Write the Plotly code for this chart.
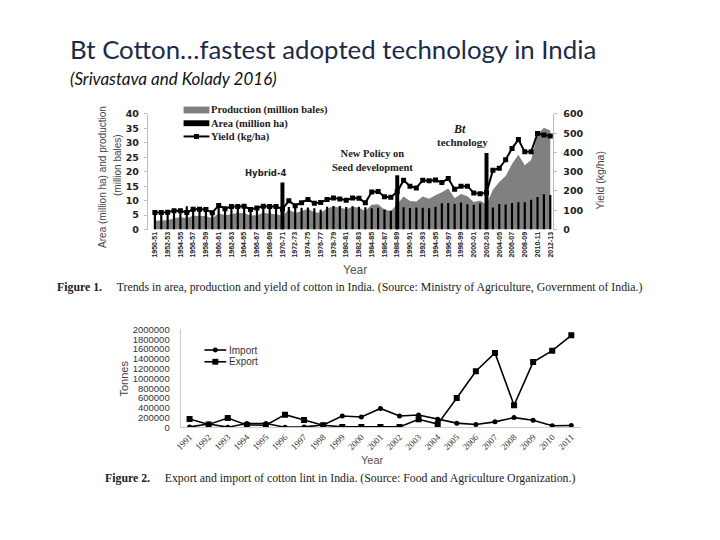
import plotly.graph_objects as go

W, H = 720, 540
OFF = 8  # page body margin of the html page
def px(x):
    return (x - OFF) / W
def py(y):
    return 1 - (y - OFF) / H

# ---------------- data: Figure 1 ----------------
start_years = list(range(1950, 2013))
seasons = [f"{y}-{(y + 1) % 100:02d}" for y in start_years]

production = [3.04, 3.13, 3.18, 3.93, 4.23, 4.00, 4.73, 4.72, 4.69, 3.90,
              5.60, 4.97, 5.48, 5.75, 5.59, 4.85, 4.95, 5.78, 5.45, 5.26,
              4.76, 6.95, 5.74, 6.31, 7.16, 5.95, 5.84, 7.24, 7.96, 7.65,
              7.01, 7.88, 7.53, 6.39, 8.53, 8.73, 6.91, 6.38, 8.74, 11.42,
              9.84, 9.71, 11.40, 10.65, 11.89, 12.86, 14.23, 10.85, 12.29, 11.53,
              9.52, 10.00, 8.62, 13.73, 16.43, 18.50, 22.63, 25.88, 22.28, 24.02,
              33.00, 35.20, 34.22]

area = [5.88, 5.90, 6.00, 6.50, 6.60, 8.09, 7.00, 7.00, 6.90, 5.80,
        7.61, 7.20, 7.82, 7.90, 8.00, 6.90, 7.40, 7.90, 7.73, 7.61,
        7.61, 7.80, 7.67, 7.57, 7.61, 7.36, 6.87, 7.87, 8.14, 8.13,
        7.82, 8.06, 7.87, 7.72, 7.38, 7.53, 6.95, 6.46, 7.34, 7.69,
        7.44, 7.66, 7.54, 7.32, 7.86, 9.06, 9.17, 8.87, 9.34, 8.71,
        8.53, 9.13, 7.67, 7.63, 8.79, 8.68, 9.14, 9.41, 9.41, 10.31,
        11.24, 12.18, 11.98]

yield_kg = [88, 88, 90, 98, 98, 88, 105, 105, 104, 87,
            125, 108, 120, 119, 121, 104, 112, 121, 120, 120,
            106, 149, 124, 139, 156, 136, 140, 156, 164, 159,
            152, 164, 162, 139, 195, 197, 170, 168, 196, 256,
            225, 216, 256, 253, 257, 244, 265, 209, 224, 225,
            190, 186, 191, 307, 318, 362, 421, 467, 403, 403,
            499, 491, 486]

event_seasons = ["1970-71", "1988-89", "2002-03"]
event_heights = [16.3, 18.8, 26.5]

left_ticks = [0, 5, 10, 15, 20, 25, 30, 35, 40]
right_ticks = [0, 100, 200, 300, 400, 500, 600]

# ---------------- data: Figure 2 ----------------
trade_years = list(range(1991, 2012))
imports = [10000, 70000, 5000, 80000, 80000, 5000, 10000, 50000, 233000, 213000,
           387000, 233000, 253000, 167000, 87000, 60000, 113000, 200000, 147000,
           33000, 40000]
exports = [170000, 60000, 190000, 50000, 45000, 260000, 150000, 45000, 10000, 10000,
           10000, 10000, 167000, 67000, 600000, 1147000, 1520000, 453000, 1333000,
           1567000, 1880000]
tonnes_ticks = list(range(0, 2000001, 200000))

# ---------------- figure ----------------
fig = go.Figure()

fig.add_trace(go.Scatter(x=seasons, y=production, mode="lines", fill="tozeroy",
                         fillcolor="#808080", line=dict(width=0, color="#808080"),
                         xaxis="x", yaxis="y", showlegend=False, hoverinfo="skip"))
fig.add_trace(go.Bar(x=seasons, y=area, width=0.34, marker=dict(color="black", line=dict(width=0)),
                     xaxis="x", yaxis="y2", showlegend=False))
fig.add_trace(go.Bar(x=event_seasons, y=event_heights, width=0.62,
                     marker=dict(color="black", line=dict(width=0)),
                     xaxis="x", yaxis="y2", showlegend=False))
fig.add_trace(go.Scatter(x=seasons, y=yield_kg, mode="lines+markers",
                         line=dict(color="black", width=2),
                         marker=dict(symbol="square", size=5, color="black"),
                         xaxis="x", yaxis="y3", showlegend=False))

fig.add_trace(go.Scatter(x=trade_years, y=imports, mode="lines+markers",
                         line=dict(color="black", width=1.6),
                         marker=dict(symbol="circle", size=5, color="black"),
                         xaxis="x2", yaxis="y4", showlegend=False))
fig.add_trace(go.Scatter(x=trade_years, y=exports, mode="lines+markers",
                         line=dict(color="black", width=1.6),
                         marker=dict(symbol="square", size=6, color="black"),
                         xaxis="x2", yaxis="y4", showlegend=False))

bold_tick = dict(family="DejaVu Sans", size=9.5, color="#222", weight="bold")

fig.update_layout(
    width=W, height=H, margin=dict(l=0, r=0, t=0, b=0),
    paper_bgcolor="white", plot_bgcolor="white",
    barmode="overlay", showlegend=False,
    xaxis=dict(domain=[px(143), px(552)], type="category", range=[-1.1, 62.5],
               anchor="y", tickvals=seasons[::2], ticktext=seasons[::2],
               tickangle=-90, tickfont=dict(family="Liberation Sans", size=7, color="#222", weight="bold"),
               showline=False, showgrid=False, zeroline=False, ticks=""),
    yaxis=dict(domain=[py(228), py(110)], range=[0, 40], tickvals=left_ticks,
               tickfont=bold_tick, showline=True, linecolor="#bbbbbb",
               ticks="outside", ticklen=3, tickcolor="#bbbbbb",
               showgrid=False, zeroline=False, ticklabelstandoff=3),
    yaxis2=dict(domain=[py(228), py(110)], range=[0, 40], overlaying="y", anchor="x",
                visible=False),
    yaxis3=dict(range=[0, 600], overlaying="y", anchor="x", side="right",
                tickvals=right_ticks, tickfont=bold_tick, showline=True,
                linecolor="#bbbbbb", ticks="outside", ticklen=3, tickcolor="#bbbbbb",
                showgrid=False, zeroline=False, ticklabelstandoff=4),
    xaxis2=dict(domain=[px(176), px(580)], range=[1990.53, 2011.52], anchor="y4",
                tickvals=trade_years, tickangle=-45,
                tickfont=dict(family="Liberation Serif", size=9, color="#333"),
                showline=True, linecolor="#cccccc", showgrid=False, zeroline=False, ticks=""),
    yaxis4=dict(domain=[py(430), py(330)], range=[0, 2000000], anchor="x2",
                tickvals=tonnes_ticks, ticktext=[str(v) for v in tonnes_ticks],
                tickfont=dict(family="Liberation Sans", size=9.5, color="#333"),
                showline=True, linecolor="#cccccc", showgrid=False, zeroline=False,
                ticks="", ticklabelstandoff=8),
)

ann = []
def text(x, y, s, size, family="Liberation Sans", color="#222", xanchor="center",
         angle=0, weight="normal", style="normal", align="center"):
    ann.append(dict(xref="paper", yref="paper", x=px(x), y=py(y), text=s,
                    showarrow=False, xanchor=xanchor, yanchor="middle", textangle=angle,
                    align=align, borderpad=0,
                    font=dict(family=family, size=size, color=color, weight=weight, style=style)))

# title block
text(63, 44, "Bt Cotton…fastest adopted technology in India", 25.8, family="Lato",
     color="#1c2a4a", xanchor="left")
text(63, 74, "(Srivastava and Kolady 2016)", 17, family="Lato", color="#111",
     xanchor="left", style="italic")

# figure 1 text
text(97, 174, "Area (million ha) and production", 10,
     family="Liberation Sans Narrow, Liberation Sans", color="#444", angle=-90)
text(113, 162, "(million bales)", 10,
     family="Liberation Sans Narrow, Liberation Sans", color="#444", angle=-90)
text(598, 178, "Yield (kg/ha)", 10.5,
     family="Liberation Sans Narrow, Liberation Sans", color="#444", angle=-90)
text(352, 269, "Year", 12, color="#555")
text(262, 170, "Hybrid-4", 8.5, family="DejaVu Sans", weight="bold")
text(370, 158, "New Policy on<br>Seed development", 10.5, family="Liberation Serif", weight="bold")
text(457, 125, "Bt", 12, family="Liberation Serif", weight="bold", style="italic")
text(460, 139, "technology", 11, family="Liberation Serif", weight="bold")

legend1 = ["Production (million bales)", "Area (million ha)", "Yield (kg/ha)"]
text(206, 119.5, "<br>".join(legend1), 10.5, family="Liberation Serif", weight="bold",
     xanchor="left", align="left")

# figure 2 text
text(119, 380, "Tonnes", 11, color="#444", angle=-90)
text(370, 463, "Year", 11, color="#555")
legend2 = ["Import", "Export"]
for lab, yy in zip(legend2, [351, 363]):
    text(224, yy, lab, 10, color="#333", xanchor="left")

# captions
sp = "&nbsp;" * 5
text(50, 287, "<b>Figure 1.</b>" + sp + "Trends in area, production and yield of cotton in India. "
     "(Source: Ministry of Agriculture, Government of India.)", 11.8,
     family="Liberation Serif", color="#222", xanchor="left")
text(99, 482, "<b>Figure 2.</b>" + sp + "Export and import of cotton lint in India. "
     "(Source: Food and Agriculture Organization.)", 11.8,
     family="Liberation Serif", color="#222", xanchor="left")

fig.update_layout(annotations=ann)

# legend symbols (layout decoration), rows follow 1.3 x font line spacing
r1, r2, r3 = 106.0, 119.5, 133.0
shapes = [
    dict(type="rect", xref="paper", yref="paper", x0=px(179), x1=px(205), y0=py(r1 + 3.5), y1=py(r1 - 3.5),
         fillcolor="#808080", line=dict(width=0)),
    dict(type="rect", xref="paper", yref="paper", x0=px(179), x1=px(205), y0=py(r2 + 3), y1=py(r2 - 3),
         fillcolor="black", line=dict(width=0)),
    dict(type="line", xref="paper", yref="paper", x0=px(179), x1=px(205), y0=py(r3), y1=py(r3),
         line=dict(color="black", width=2)),
    dict(type="rect", xref="paper", yref="paper", x0=px(189.5), x1=px(194.5), y0=py(r3 + 2.5), y1=py(r3 - 2.5),
         fillcolor="black", line=dict(width=0)),
    dict(type="line", xref="paper", yref="paper", x0=px(200), x1=px(222), y0=py(351), y1=py(351),
         line=dict(color="black", width=1.6)),
    dict(type="circle", xref="paper", yref="paper", x0=px(208.5), x1=px(213.5), y0=py(353.5), y1=py(348.5),
         fillcolor="black", line=dict(width=0)),
    dict(type="line", xref="paper", yref="paper", x0=px(200), x1=px(222), y0=py(363), y1=py(363),
         line=dict(color="black", width=1.6)),
    dict(type="rect", xref="paper", yref="paper", x0=px(208), x1=px(214), y0=py(366), y1=py(360),
         fillcolor="black", line=dict(width=0)),
]
fig.update_layout(shapes=shapes)

fig.write_html("out.html")
